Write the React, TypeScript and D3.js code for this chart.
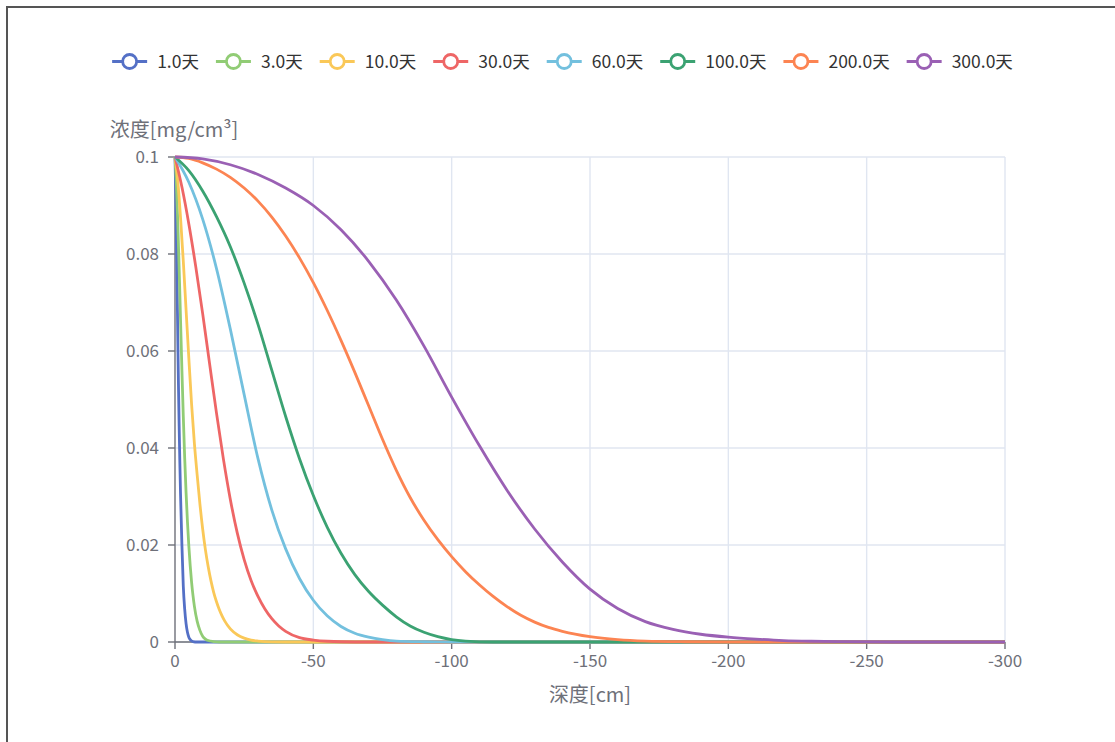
import React, { useMemo } from "react";
import * as d3 from "d3";

// ---------- data ----------
const depthTicks = [0, -50, -100, -150, -200, -250, -300];
const concTicks = [0, 0.02, 0.04, 0.06, 0.08, 0.1];
const seriesNames = ["1.0天", "3.0天", "10.0天", "30.0天", "60.0天", "100.0天", "200.0天", "300.0天"];
const seriesColors = ["#5470c6", "#91cc75", "#fac858", "#ee6666", "#73c0de", "#3ba272", "#fc8452", "#9a60b4"];

// [depth (cm), concentration (mg/cm³)]
const day1: [number, number][] = [
  [0, 0.1], [-0.25, 0.093], [-0.5, 0.084], [-0.75, 0.074], [-1, 0.063], [-1.25, 0.053],
  [-1.5, 0.0445], [-1.75, 0.037], [-2, 0.0305], [-2.5, 0.02], [-3, 0.0115], [-3.5, 0.0068],
  [-4, 0.0038], [-4.5, 0.002], [-5, 0.001], [-5.5, 0.0005], [-6.5, 0.0001], [-8, 0], [-300, 0],
];
const day3: [number, number][] = [
  [0, 0.1], [-0.5, 0.0945], [-1, 0.0865], [-1.5, 0.077], [-2, 0.0665], [-2.5, 0.056], [-3, 0.0465],
  [-3.5, 0.038], [-4, 0.0308], [-4.5, 0.0248], [-5, 0.0198], [-5.5, 0.0157], [-6, 0.0123],
  [-6.5, 0.0096], [-7, 0.0074], [-8, 0.0043], [-9, 0.0024], [-10, 0.0012], [-11, 0.0006],
  [-12, 0.0003], [-14, 0.0001], [-16, 0], [-300, 0],
];
const day10: [number, number][] = [
  [0, 0.1], [-1, 0.095], [-2, 0.0875], [-3, 0.0785], [-4, 0.0685], [-5, 0.0585], [-6, 0.049],
  [-7, 0.041], [-8, 0.0345], [-9, 0.0285], [-10, 0.0233], [-11, 0.019], [-12, 0.0155], [-13, 0.0126],
  [-14, 0.0102], [-15, 0.0083], [-16, 0.0067], [-17, 0.0054], [-18, 0.0043], [-20, 0.0027],
  [-22.5, 0.0015], [-25, 0.0008], [-27.5, 0.0004], [-30, 0.0002], [-35, 0.00003], [-40, 0], [-300, 0],
];
const day30: [number, number][] = [
  [0, 0.1], [-2.5, 0.0938], [-5, 0.0862], [-7.5, 0.0774], [-10, 0.0677], [-12.5, 0.0574], [-15, 0.0472],
  [-17.5, 0.0377], [-20, 0.0294], [-22.5, 0.0225], [-25, 0.017], [-27.5, 0.0127], [-30, 0.0094],
  [-32.5, 0.0068], [-35, 0.0048], [-37.5, 0.0033], [-40, 0.0022], [-45, 0.0009], [-50, 0.0004],
  [-55, 0.00015], [-65, 0], [-300, 0],
];
const day60: [number, number][] = [
  [0, 0.1], [-5, 0.0948], [-10, 0.0872], [-15, 0.077], [-20, 0.0645], [-25, 0.051], [-30, 0.0378],
  [-35, 0.0272], [-40, 0.0192], [-45, 0.0131], [-50, 0.0086], [-55, 0.0054], [-60, 0.0032],
  [-65, 0.0018], [-70, 0.001], [-75, 0.0005], [-80, 0.0002], [-90, 0.00005], [-100, 0], [-300, 0],
];
const day100: [number, number][] = [
  [0, 0.1], [-5, 0.0972], [-10, 0.093], [-15, 0.0877], [-20, 0.0815], [-25, 0.074], [-30, 0.0655],
  [-35, 0.056], [-40, 0.0465], [-45, 0.0378], [-50, 0.0302], [-55, 0.0237], [-60, 0.0183],
  [-65, 0.0139], [-70, 0.0104], [-75, 0.0076], [-80, 0.0052], [-85, 0.0033], [-90, 0.002],
  [-95, 0.0011], [-100, 0.0005], [-105, 0.0002], [-115, 0], [-300, 0],
];
const day200: [number, number][] = [
  [0, 0.1], [-5, 0.0997], [-10, 0.0988], [-15, 0.0975], [-20, 0.0958], [-25, 0.0936], [-30, 0.0909],
  [-35, 0.0876], [-40, 0.0837], [-45, 0.0792], [-50, 0.0741], [-55, 0.0684], [-60, 0.0622],
  [-65, 0.0556], [-70, 0.0487], [-75, 0.0418], [-80, 0.0354], [-85, 0.0298], [-90, 0.0251],
  [-95, 0.0211], [-100, 0.0176], [-105, 0.0145], [-110, 0.0118], [-115, 0.0094], [-120, 0.0073],
  [-125, 0.0055], [-130, 0.0041], [-135, 0.003], [-140, 0.0022], [-150, 0.0011], [-160, 0.0005],
  [-170, 0.0002], [-185, 0.00005], [-200, 0], [-300, 0],
];
const day300: [number, number][] = [
  [0, 0.1], [-10, 0.0996], [-20, 0.0984], [-30, 0.0964], [-40, 0.0936], [-50, 0.09], [-60, 0.085],
  [-70, 0.0785], [-80, 0.0705], [-90, 0.061], [-100, 0.0505], [-110, 0.0405], [-120, 0.0313],
  [-130, 0.0233], [-140, 0.0165], [-150, 0.0109], [-160, 0.0069], [-170, 0.0042], [-180, 0.0026],
  [-190, 0.0016], [-200, 0.001], [-210, 0.0006], [-220, 0.0003], [-230, 0.00015], [-240, 0.00007],
  [-260, 0], [-300, 0],
];
const seriesData = [day1, day3, day10, day30, day60, day100, day200, day300];

// ---------- layout ----------
const W = 1115;
const H = 742;
const FONT = '"Noto Sans CJK SC", "Noto Sans", sans-serif';
const AXIS_COLOR = "#6E7079";
const GRID_COLOR = "#E0E6F1";

function measure(text: string, size: number): number {
  if (typeof document === "undefined") return text.length * size * 0.6;
  const c = document.createElement("canvas");
  const ctx = c.getContext("2d");
  if (!ctx) return text.length * size * 0.6;
  ctx.font = `${size}px ${FONT}`;
  return ctx.measureText(text).width;
}

export default function App() {
  const x = d3.scaleLinear().domain([0, -300]).range([175, 1005]);
  const y = d3.scaleLinear().domain([0, 0.1]).range([642, 157]);
  const line = d3
    .line<[number, number]>()
    .x((d) => x(d[0]))
    .y((d) => y(d[1]))
    .curve(d3.curveMonotoneX);

  const legendFont = 17.5;
  const iconW = 35;
  const iconGap = 10;
  const itemGap = 17;
  const legend = useMemo(() => {
    const widths = seriesNames.map((n) => measure(n, legendFont));
    const total =
      widths.reduce((a, b) => a + b, 0) + seriesNames.length * (iconW + iconGap) + (seriesNames.length - 1) * itemGap;
    let cx = 562.5 - total / 2;
    return seriesNames.map((n, i) => {
      const item = { name: n, x: cx, color: seriesColors[i] };
      cx += iconW + iconGap + widths[i] + itemGap;
      return item;
    });
  }, []);

  const plotLeft = x(0);
  const plotRight = x(-300);
  const plotTop = y(0.1);
  const plotBottom = y(0);

  return (
    <svg
      width={W}
      height={H}
      style={{ position: "absolute", left: 0, top: 0, background: "#fff" }}
      fontFamily={FONT}
    >
      <rect x={0} y={0} width={W} height={H} fill="#fff" />
      {/* outer frame */}
      <path d={`M7,${H + 5} L7,7 L${W + 5},7`} fill="none" stroke="#555" strokeWidth={2} />

      {/* legend */}
      {legend.map((it) => (
        <g key={it.name} transform={`translate(${it.x},61.5)`}>
          <line x1={0} x2={iconW} y1={0} y2={0} stroke={it.color} strokeWidth={2.8} />
          <circle cx={iconW / 2} cy={0} r={7} fill="#fff" stroke={it.color} strokeWidth={2.8} />
          <text x={iconW + iconGap} y={0} dy="0.35em" fontSize={legendFont} fill="#333">
            {it.name}
          </text>
        </g>
      ))}

      {/* grid */}
      {concTicks.map((t) => (
        <line key={"gy" + t} x1={plotLeft} x2={plotRight} y1={y(t)} y2={y(t)} stroke={GRID_COLOR} strokeWidth={1.4} />
      ))}
      {depthTicks.filter((t) => t !== 0).map((t) => (
        <line key={"gx" + t} x1={x(t)} x2={x(t)} y1={plotTop} y2={plotBottom} stroke={GRID_COLOR} strokeWidth={1.4} />
      ))}

      {/* y axis */}
      <line x1={plotLeft} x2={plotLeft} y1={plotTop} y2={plotBottom} stroke={AXIS_COLOR} strokeWidth={1.4} />
      {concTicks.map((t) => (
        <g key={"ty" + t}>
          <line x1={plotLeft - 7} x2={plotLeft} y1={y(t)} y2={y(t)} stroke={AXIS_COLOR} strokeWidth={1.4} />
          <text x={plotLeft - 16} y={y(t)} dy="0.35em" textAnchor="end" fontSize={17} fill={AXIS_COLOR}>
            {d3.format("~g")(t)}
          </text>
        </g>
      ))}
      <text x={plotLeft - 1} y={129.5} dy="0.35em" textAnchor="middle" fontSize={20} fill={AXIS_COLOR}>
        浓度[mg/cm³]
      </text>

      {/* x axis */}
      <line x1={plotLeft} x2={plotRight} y1={plotBottom} y2={plotBottom} stroke={AXIS_COLOR} strokeWidth={1.4} />
      {depthTicks.map((t) => (
        <g key={"tx" + t}>
          <line x1={x(t)} x2={x(t)} y1={plotBottom} y2={plotBottom + 7} stroke={AXIS_COLOR} strokeWidth={1.4} />
          <text x={x(t)} y={661.5} dy="0.35em" textAnchor="middle" fontSize={17} fill={AXIS_COLOR}>
            {t === 0 ? "0" : String(t)}
          </text>
        </g>
      ))}
      <text x={(plotLeft + plotRight) / 2} y={695} dy="0.35em" textAnchor="middle" fontSize={20} fill={AXIS_COLOR}>
        深度[cm]
      </text>

      {/* series */}
      {seriesData.map((s, i) => (
        <path key={seriesNames[i]} d={line(s) || ""} fill="none" stroke={seriesColors[i]} strokeWidth={2.8} strokeLinejoin="round" />
      ))}
    </svg>
  );
}
